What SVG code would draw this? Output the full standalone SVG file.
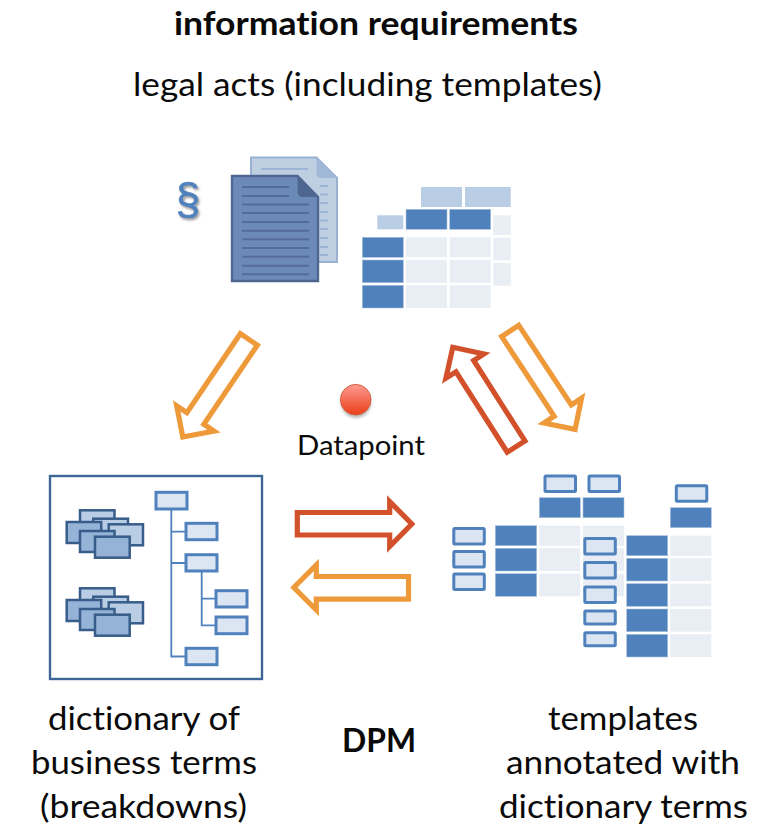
<svg xmlns="http://www.w3.org/2000/svg" width="759" height="827" viewBox="0 0 759 827">
<style>
text{font-family:Lato,"Liberation Sans",sans-serif;fill:#0a0a0a;text-anchor:middle;font-variant-ligatures:none}
.b{font-weight:700}
.t{font-size:32px}
.hd{fill:#4f81bd;stroke:#a9c1de;stroke-width:.6}
.lt{fill:#b9cde5}
.pl{fill:#e9edf4}
.bx{fill:#dce6f2;stroke:#4f81bd;stroke-width:3}
.c1{fill:#b9cde5;stroke:#385d8a;stroke-width:2.500}
.c2{fill:#95b3d7;stroke:#385d8a;stroke-width:2.500}
.tl{fill:none;stroke:#4f81bd;stroke-width:1.800}
.ar{fill:#fff;stroke-width:5.200;stroke-miterlimit:6}
.or{stroke:#ee9a3b}
.rd{stroke:#d2512b}
.dl{stroke:#4f6690;stroke-width:2;opacity:.8}
.bl{stroke:#9db5d4;stroke-width:1.800}
.sec{font-size:44px;font-family:"Liberation Sans",sans-serif}
</style>
<defs>
<linearGradient id="ball" x1="0" y1="0" x2="0" y2="1"><stop offset="0" stop-color="#ff9a90"/><stop offset="1" stop-color="#ea3f1a"/></linearGradient>
<filter id="sh" x="-30%" y="-30%" width="160%" height="170%"><feGaussianBlur stdDeviation="1.6"/></filter>
<filter id="ds" x="-30%" y="-30%" width="170%" height="170%"><feDropShadow dx="1.500" dy="2" stdDeviation="1.200" flood-color="#555" flood-opacity=".6"/></filter>
<g id="cards">
<rect class="c1" x="80" y="510.3" width="34.5" height="21"/>
<rect class="c1" x="93.3" y="518.7" width="34.7" height="21"/>
<rect class="c2" x="66.7" y="522" width="34.5" height="21"/>
<rect class="c1" x="108.7" y="524.3" width="34.3" height="21"/>
<rect class="c2" x="80" y="531" width="34.5" height="21"/>
<rect class="c2" x="95" y="536.7" width="34.7" height="21"/>
</g>
</defs>

<g id="title">
<text class="t b" x="376" y="35" textLength="404" lengthAdjust="spacingAndGlyphs">information requirements</text>
<text class="t" x="367.500" y="96" textLength="469" lengthAdjust="spacingAndGlyphs">legal acts (including templates)</text>
</g>

<g id="legal-acts">
<text class="sec" x="188" y="214" style="fill:#4f81bd;stroke:#4f81bd;stroke-width:.6" filter="url(#ds)">§</text>
<path d="M251 157.500H316.500L337 178V262H251Z" fill="#bfcfe2" stroke="#98b1d1" stroke-width="2"/>
<path d="M316.500 157.500L337 178H321Q316.500 178 316.500 173Z" fill="#9fb8d7"/>
<g class="bl">
<path d="M261 169H308M320 186H328M320 194.500H328M320 203H328M320 212H328M320 220.500H328M320 229H328M320 238H328M320 247H328M320 255H328"/>
</g>
<path d="M232 176H297.500L318 197V281H232Z" fill="#6c8ab8" stroke="#4f6690" stroke-width="2.400"/>
<path d="M297.500 176L318 197H303Q297.500 197 297.500 191Z" fill="#4f6690"/>
<path class="dl" d="M242 187H289M242 196H289M242 204.500H309M242 213H309M242 222H309M242 230.700H309M242 239.300H309M242 248H309M242 256.700H309M242 265.700H309M242 274.300H309"/>
</g>

<g id="template-table">
<rect class="lt" x="421" y="187" width="41" height="20"/>
<rect class="lt" x="465" y="187" width="45.700" height="20"/>
<rect class="lt" x="377.300" y="215.300" width="26" height="14"/>
<rect class="hd" x="406" y="209.300" width="41" height="20"/>
<rect class="hd" x="449.700" y="209.300" width="41" height="20"/>
<rect class="hd" x="362.300" y="237.300" width="41" height="20"/>
<rect class="hd" x="362.300" y="260" width="41" height="22.700"/>
<rect class="hd" x="362.300" y="285.300" width="41" height="22.700"/>
<rect class="pl" x="406" y="237.300" width="41" height="20"/>
<rect class="pl" x="449.700" y="237.300" width="41" height="20"/>
<rect class="pl" x="406" y="260" width="41" height="22.700"/>
<rect class="pl" x="449.700" y="260" width="41" height="22.700"/>
<rect class="pl" x="406" y="285.300" width="41" height="22.700"/>
<rect class="pl" x="449.700" y="285.300" width="41" height="22.700"/>
<rect class="pl" x="493.300" y="215.300" width="17.400" height="19.700"/>
<rect class="pl" x="493.300" y="237.700" width="17.400" height="22.600"/>
<rect class="pl" x="493.300" y="263" width="17.400" height="22.700"/>
</g>

<g id="datapoint">
<circle cx="356" cy="403" r="15" fill="#777" opacity=".5" filter="url(#sh)"/>
<circle cx="355.700" cy="399.700" r="15.300" fill="url(#ball)" stroke="#d0603f" stroke-width="1"/>
<text x="361" y="455" style="font-size:27px" textLength="128" lengthAdjust="spacingAndGlyphs">Datapoint</text>
</g>

<g id="dictionary">
<rect x="50" y="476" width="212" height="203" fill="#fff" stroke="#3d6595" stroke-width="2.400"/>
<use href="#cards"/>
<use href="#cards" y="78"/>
<path class="tl" d="M171.300 509V656.500H186M171.300 531.700H186M171.300 563H186M201.700 571V625.300H216M201.700 598.700H216"/>
<rect class="bx" x="156" y="492.300" width="31" height="16.700"/>
<rect class="bx" x="186" y="523.300" width="31" height="16.400"/>
<rect class="bx" x="186" y="554.700" width="31" height="16.300"/>
<rect class="bx" x="216" y="590.700" width="31" height="16.300"/>
<rect class="bx" x="216" y="617" width="31" height="16.700"/>
<rect class="bx" x="186" y="648.300" width="31" height="16.400"/>
</g>

<g id="annotated-templates">
<rect class="pl" x="539.300" y="525.700" width="41" height="20"/>
<rect class="pl" x="583" y="525.700" width="41" height="20"/>
<rect class="pl" x="539.300" y="548.300" width="41" height="22.700"/>
<rect class="pl" x="583" y="548.300" width="41" height="22.700"/>
<rect class="pl" x="539.300" y="573.700" width="41" height="22.600"/>
<rect class="pl" x="583" y="573.700" width="41" height="22.600"/>
<rect class="hd" x="539.300" y="497.700" width="41" height="20"/>
<rect class="hd" x="583" y="497.700" width="41" height="20"/>
<rect class="hd" x="495.300" y="525.700" width="41.400" height="20"/>
<rect class="hd" x="495.300" y="548.300" width="41.400" height="22.700"/>
<rect class="hd" x="495.300" y="573.700" width="41.400" height="22.600"/>
<rect class="hd" x="670.300" y="507.700" width="41" height="20"/>
<rect class="hd" x="626.700" y="535.700" width="41" height="20"/>
<rect class="hd" x="626.700" y="558.300" width="41" height="22.700"/>
<rect class="hd" x="626.700" y="583.700" width="41" height="22.600"/>
<rect class="hd" x="626.700" y="609" width="41" height="22.700"/>
<rect class="hd" x="626.700" y="634.300" width="41" height="22.700"/>
<rect class="pl" x="670.300" y="535.700" width="41" height="20"/>
<rect class="pl" x="670.300" y="558.300" width="41" height="22.700"/>
<rect class="pl" x="670.300" y="583.700" width="41" height="22.600"/>
<rect class="pl" x="670.300" y="609" width="41" height="22.700"/>
<rect class="pl" x="670.300" y="634.300" width="41" height="22.700"/>
<rect class="bx" x="545" y="476" width="30.500" height="15.500" rx="1"/>
<rect class="bx" x="589" y="476" width="30.500" height="15.500" rx="1"/>
<rect class="bx" x="676.300" y="485.800" width="30.500" height="15.500" rx="1"/>
<rect class="bx" x="453.800" y="528.500" width="30.500" height="15.500" rx="1"/>
<rect class="bx" x="453.800" y="551.500" width="30.500" height="15.500" rx="1"/>
<rect class="bx" x="453.800" y="574" width="30.500" height="15.500" rx="1"/>
<rect class="bx" x="584.800" y="538.500" width="30.500" height="15.500" rx="1"/>
<rect class="bx" x="584.800" y="562.500" width="30.500" height="15.500" rx="1"/>
<rect class="bx" x="584.800" y="587" width="30.500" height="15.500" rx="1"/>
<rect class="bx" x="584.800" y="611" width="30.500" height="13" rx="1"/>
<rect class="bx" x="584.800" y="632.800" width="30.500" height="13" rx="1"/>
</g>

<g id="connectors">
<polygon class="ar or" transform="translate(250.300 337.300) rotate(124.100)" points="2.600,-10.250 98,-10.250 98,-22.500 120.400,0 98,22.500 98,10.250 2.600,10.250"/>
<polygon class="ar rd" transform="translate(517.500 448.800) rotate(-122.500)" points="2.600,-10.500 98,-10.500 98,-22.500 120.400,0 98,22.500 98,10.500 2.600,10.500"/>
<polygon class="ar or" transform="translate(508.800 328.800) rotate(56.600)" points="2.600,-10.250 98,-10.250 98,-22.500 120.400,0 98,22.500 98,10.250 2.600,10.250"/>
<polygon class="ar rd" points="297.300,512.500 389.700,512.500 389.700,501.500 411.800,524 389.700,546.500 389.700,535 297.300,535"/>
<polygon class="ar or" points="408.500,576.500 316.300,576.500 316.300,565 293.900,587.500 316.300,610 316.300,599.200 408.500,599.200"/>
</g>

<g id="labels">
<text class="t" x="144" y="730" textLength="192" lengthAdjust="spacingAndGlyphs">dictionary of</text>
<text class="t" x="144" y="774" textLength="226" lengthAdjust="spacingAndGlyphs">business terms</text>
<text class="t" x="143.500" y="818" textLength="207" lengthAdjust="spacingAndGlyphs">(breakdowns)</text>
<text class="t b" x="379" y="752" textLength="74" lengthAdjust="spacingAndGlyphs">DPM</text>
<text class="t" x="623" y="730" textLength="150" lengthAdjust="spacingAndGlyphs">templates</text>
<text class="t" x="623" y="774" textLength="234" lengthAdjust="spacingAndGlyphs">annotated with</text>
<text class="t" x="623.500" y="818" textLength="249" lengthAdjust="spacingAndGlyphs">dictionary terms</text>
</g>
</svg>
